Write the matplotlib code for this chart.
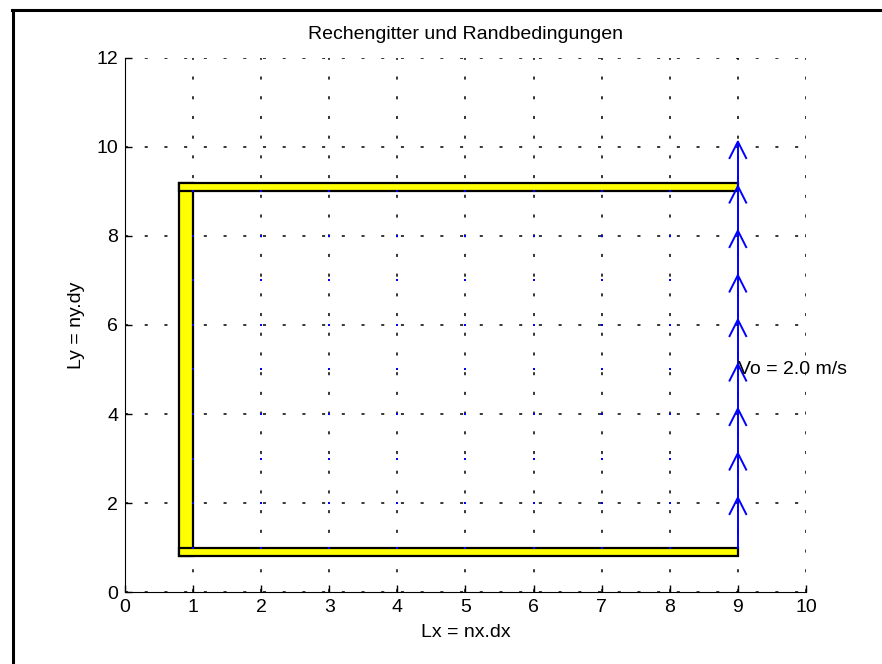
import numpy as np
import matplotlib.pyplot as plt
from matplotlib.patches import Rectangle
from matplotlib.lines import Line2D

plt.rcParams['font.family'] = ['Liberation Sans', 'DejaVu Sans']

# grid nodes and boundary velocity
x_nodes = [1, 2, 3, 4, 5, 6, 7, 8, 9]
y_nodes = [1, 2, 3, 4, 5, 6, 7, 8, 9]
v_inlet = 2.0          # m/s at x = 9
x_inlet = 9
arrow_scale = 0.56     # quiver scaling (data units per m/s)

# walls: (x0, y0, width, height)
walls = [
    (0.8, 0.8, 0.2, 8.4),   # left
    (0.8, 9.0, 8.2, 0.2),   # top
    (0.8, 0.8, 8.2, 0.2),   # bottom
]

fs = 14

fig = plt.figure(figsize=(8.82, 6.64), dpi=100)
ax = fig.add_axes([0.1417, 0.1084, 0.7721, 0.8043])

ax.set_axisbelow(True)
ax.grid(True, color='black', linewidth=1.1, linestyle=(0, (2.0, 10.9)))

for x0, y0, w, h in walls:
    ax.add_patch(Rectangle((x0, y0), w, h, facecolor='#ffff00',
                           edgecolor='black', linewidth=1.6, zorder=2))

# zero velocity nodes -> tiny dots
X, Y = np.meshgrid(x_nodes, y_nodes)
inner = X != x_inlet
ax.plot(X[inner], Y[inner], linestyle='none', marker='s', markersize=1.6,
        markeredgewidth=0, color='blue', zorder=3)

# inlet arrows (matlab quiver style)
alpha, beta = 0.33, 0.33
for y in y_nodes:
    L = v_inlet * arrow_scale
    tip = y + L
    ax.plot([x_inlet, x_inlet], [y, tip], color='blue', linewidth=1.4, zorder=4)
    ax.plot([x_inlet - alpha * beta * L, x_inlet, x_inlet + alpha * beta * L],
            [tip - alpha * L, tip, tip - alpha * L],
            color='blue', linewidth=1.4, zorder=4)

ax.text(x_inlet, 5, 'Vo = %.1f m/s' % v_inlet, fontsize=fs,
        ha='left', va='center', zorder=5)

ax.set_xlim(0, 10)
ax.set_ylim(0, 12)
ax.set_xticks(range(0, 11))
ax.set_yticks(range(0, 13, 2))
ax.tick_params(direction='in', length=5, labelsize=fs, width=1, pad=5)
ax.spines['top'].set_visible(False)
ax.spines['right'].set_visible(False)

ax.set_title('Rechengitter und Randbedingungen', fontsize=fs, pad=14)
ax.set_xlabel('Lx = nx.dx', fontsize=fs, labelpad=6)
ax.set_ylabel('Ly = ny.dy', fontsize=fs, labelpad=8)

# outer frame (screenshot border)
fig.add_artist(Line2D([12 / 882, 1], [1 - 10 / 664, 1 - 10 / 664],
                      color='black', linewidth=2.2))
fig.add_artist(Line2D([12.5 / 882, 12.5 / 882], [0, 1 - 10 / 664],
                      color='black', linewidth=2.2))

plt.savefig('out.png', dpi=100)
